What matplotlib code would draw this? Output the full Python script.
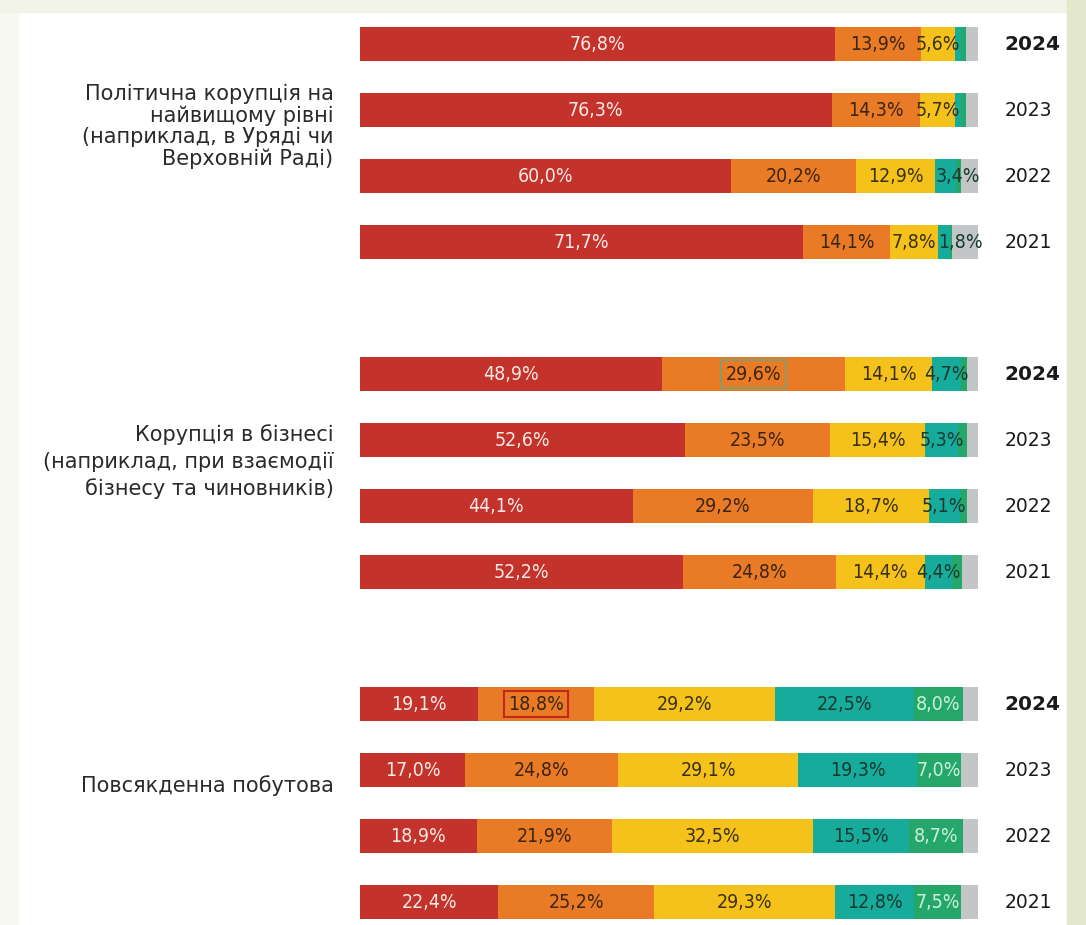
import matplotlib
matplotlib.use("Agg")
import matplotlib.pyplot as plt
from matplotlib.patches import Rectangle
import numpy as np

plt.rcParams['font.family'] = ['DejaVu Sans']

categories = [
    "Політична корупція на\nнайвищому рівні\n(наприклад, в Уряді чи\nВерховній Раді)",
    "Корупція в бізнесі\n(наприклад, при взаємодії\nбізнесу та чиновників)",
    "Повсякденна побутова",
]
years = ["2024", "2023", "2022", "2021"]

# values per bar (group order: categories; inside group: years)
red    = [76.8, 76.3, 60.0, 71.7,  48.9, 52.6, 44.1, 52.2,  19.1, 17.0, 18.9, 22.4]
orange = [13.9, 14.3, 20.2, 14.1,  29.6, 23.5, 29.2, 24.8,  18.8, 24.8, 21.9, 25.2]
yellow = [5.6, 5.7, 12.9, 7.8,     14.1, 15.4, 18.7, 14.4,  29.2, 29.1, 32.5, 29.3]
teal   = [0.9, 0.9, 3.4, 1.8,      4.7, 5.3, 5.1, 4.4,      22.5, 19.3, 15.5, 12.8]
green  = [0.9, 0.8, 0.8, 0.4,      1.0, 1.4, 1.2, 1.6,      8.0, 7.0, 8.7, 7.5]
gray   = [1.9, 2.0, 2.7, 4.2,      1.7, 1.8, 1.7, 2.6,      2.4, 2.8, 2.5, 2.8]

labeled = {
    "red":    [1]*12,
    "orange": [1]*12,
    "yellow": [1]*12,
    "teal":   [0, 0, 1, 1,  1, 1, 1, 1,  1, 1, 1, 1],
    "green":  [0, 0, 0, 0,  0, 0, 0, 0,  1, 1, 1, 1],
    "gray":   [0]*12,
}

series = [
    ("red", red, "#c4322c", "#fbe9e4"),
    ("orange", orange, "#e97b26", "#3b2410"),
    ("yellow", yellow, "#f4c21b", "#3b3010"),
    ("teal", teal, "#17ab9b", "#163a30"),
    ("green", green, "#25a66b", "#c9f2d6"),
    ("gray", gray, "#c2c6c6", "#333333"),
]

W, H = 1086, 925
fig = plt.figure(figsize=(W/100, H/100), dpi=100, facecolor="white")

# frame strips
fig.patches.append(Rectangle((0, 0), 18/W, 1, transform=fig.transFigure, color="#f7f8ef", zorder=0))
fig.patches.append(Rectangle((0, 1-12/H), 1, 12/H, transform=fig.transFigure, color="#f2f4e8", zorder=0))
fig.patches.append(Rectangle((1067/W, 0), 1-1067/W, 1, transform=fig.transFigure, color="#e3e8cd", zorder=0))

ax_left, ax_right = 360, 978
y_top_lim, y_bot_lim = -0.4, 13.3
px_per = 66
top_px = 44 + y_top_lim*px_per
bot_px = 902 + (y_bot_lim-13)*px_per
ax = fig.add_axes([ax_left/W, 1-bot_px/H, (ax_right-ax_left)/W, (bot_px-top_px)/H])
ax.set_xlim(0, 100)
ax.set_ylim(y_bot_lim, y_top_lim)
ax.axis("off")

ypos = []
for g in range(3):
    for k in range(4):
        ypos.append(g*5 + k)
ypos = np.array(ypos, dtype=float)

left = np.zeros(12)
for name, vals, col, tcol in series:
    v = np.array(vals)
    ax.barh(ypos, v, left=left, height=0.52, color=col, edgecolor="none")
    for i in range(12):
        if labeled[name][i]:
            txt = f"{v[i]:.1f}%".replace(".", ",")
            kw = {}
            if name == "orange" and i == 8:
                kw["bbox"] = dict(boxstyle="square,pad=0.2", fc="none", ec="#c0281c", lw=1.5)
            if name == "orange" and i == 4:
                kw["bbox"] = dict(boxstyle="square,pad=0.25", fc="none", ec="#8a9a6a", lw=1.5)
            if name == "teal" and v[i] < 4:
                # narrow segment: label starts at segment edge
                ax.text(left[i], ypos[i], txt, ha="left", va="center",
                        fontsize=14, color=tcol, fontstretch="condensed", clip_on=False)
            else:
                ax.text(left[i] + v[i]/2, ypos[i], txt, ha="center", va="center",
                        fontsize=14, color=tcol, fontstretch="condensed", **kw)
    left += v

for i in range(12):
    yr = years[i % 4]
    ax.text(104.3, ypos[i], yr, ha="left", va="center", fontsize=14.5 if yr == "2024" else 13.5,
            fontweight="bold" if yr == "2024" else "normal", color="#1a1a1a", clip_on=False)

# (vertical offset in slot units, line spacing) for each category label
offsets = [-0.25, -0.17, -0.27]
spacings = [1.08, 1.4, 1.0]
for g, cat in enumerate(categories):
    ax.text(-4.3, g*5 + 1.5 + offsets[g], cat, ha="right", va="center", fontsize=15,
            color="#2a2a2a", linespacing=spacings[g], clip_on=False)

fig.savefig("out.png", dpi=100, facecolor=fig.get_facecolor())
